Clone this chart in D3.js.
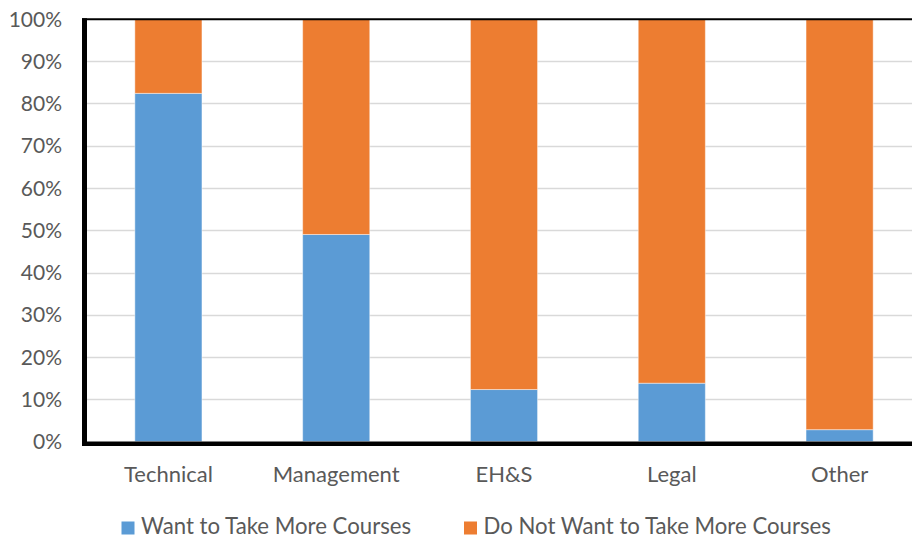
<!DOCTYPE html>
<html>
<head>
<meta charset="utf-8">
<script src="https://cdn.jsdelivr.net/npm/d3@7"></script>
<style>
  html, body { margin: 0; padding: 0; background: #fff; }
  svg { display: block; }
  text { font-family: Lato, "Open Sans", sans-serif; fill: #595959; }
</style>
</head>
<body>
<svg id="chart" width="912" height="540"></svg>
<script>
// Course interest by category (share of respondents)
const categories = ["Technical", "Management", "EH&S", "Legal", "Other"];
const wantMore = [0.824, 0.49, 0.123, 0.138, 0.028];
const notWantMore = wantMore.map(v => 1 - v);
const seriesNames = ["Want to Take More Courses", "Do Not Want to Take More Courses"];
const seriesColors = ["#5B9BD5", "#ED7D31"];
const yTicks = [0, 0.1, 0.2, 0.3, 0.4, 0.5, 0.6, 0.7, 0.8, 0.9, 1.0];

const svg = d3.select("#chart");

const plot = { left: 84.5, right: 923.5, top: 19, bottom: 441.5 };

const x = d3.scaleBand()
  .domain(categories)
  .range([plot.left, plot.right])
  .paddingInner(0.6)
  .paddingOuter(0.3);

const y = d3.scaleLinear()
  .domain([0, 1])
  .range([plot.bottom, plot.top]);

// horizontal gridlines
svg.append("g")
  .selectAll("line")
  .data(yTicks.filter(t => t > 0 && t < 1))
  .join("line")
  .attr("x1", plot.left)
  .attr("x2", 912)
  .attr("y1", d => Math.round(y(d)) + 0.5)
  .attr("y2", d => Math.round(y(d)) + 0.5)
  .attr("stroke", "#d9d9d9")
  .attr("stroke-width", 1.5);

// stacked bars
const stackData = categories.map((c, i) => ({ cat: c, want: wantMore[i], notWant: notWantMore[i] }));
const stack = d3.stack().keys(["want", "notWant"])(stackData);

svg.append("g")
  .selectAll("g")
  .data(stack)
  .join("g")
  .attr("fill", (d, i) => seriesColors[i])
  .selectAll("rect")
  .data(d => d)
  .join("rect")
  .attr("x", d => x(d.data.cat))
  .attr("width", x.bandwidth())
  .attr("y", d => y(d[1]))
  .attr("height", d => y(d[0]) - y(d[1]))
  .attr("stroke", "rgba(255,255,255,0.45)")
  .attr("stroke-width", 1);

// frame: thick left and bottom, thinner top
svg.append("line")
  .attr("x1", plot.left - 2.5).attr("x2", 912)
  .attr("y1", 19.3).attr("y2", 19.3)
  .attr("stroke", "#000").attr("stroke-width", 2);
svg.append("line")
  .attr("x1", plot.left).attr("x2", plot.left)
  .attr("y1", 18.3).attr("y2", 446)
  .attr("stroke", "#000").attr("stroke-width", 5);
svg.append("line")
  .attr("x1", plot.left - 2.5).attr("x2", 912)
  .attr("y1", 443.7).attr("y2", 443.7)
  .attr("stroke", "#000").attr("stroke-width", 4.5);

// y axis labels
const yAxis = d3.axisLeft(y)
  .tickValues(yTicks)
  .tickFormat(d3.format(".0%"))
  .tickSize(0)
  .tickPadding(0);
const yG = svg.append("g")
  .attr("transform", "translate(62,0)")
  .call(yAxis);
yG.select(".domain").remove();
yG.selectAll("text")
  .attr("font-size", 21)
  .attr("font-family", "Lato, sans-serif")
  .attr("fill", "#595959")
  .attr("dy", "0.34em");

// x axis labels
const xAxis = d3.axisBottom(x).tickSize(0).tickPadding(0);
const xG = svg.append("g")
  .attr("transform", "translate(0,466.5)")
  .call(xAxis);
xG.select(".domain").remove();
xG.selectAll("text")
  .attr("font-size", 22)
  .attr("font-family", "Lato, sans-serif")
  .attr("fill", "#595959")
  .attr("dy", "0.71em");

// legend
const legendX = [121.5, 464];
const legend = svg.append("g")
  .selectAll("g")
  .data(seriesNames)
  .join("g")
  .attr("transform", (d, i) => `translate(${legendX[i]},521.5)`);
legend.append("rect")
  .attr("width", 13).attr("height", 13)
  .attr("fill", (d, i) => seriesColors[i]);
legend.append("text")
  .attr("x", 19.5)
  .attr("y", 12.8)
  .attr("font-size", 22.2)
  .text(d => d);
</script>
</body>
</html>
